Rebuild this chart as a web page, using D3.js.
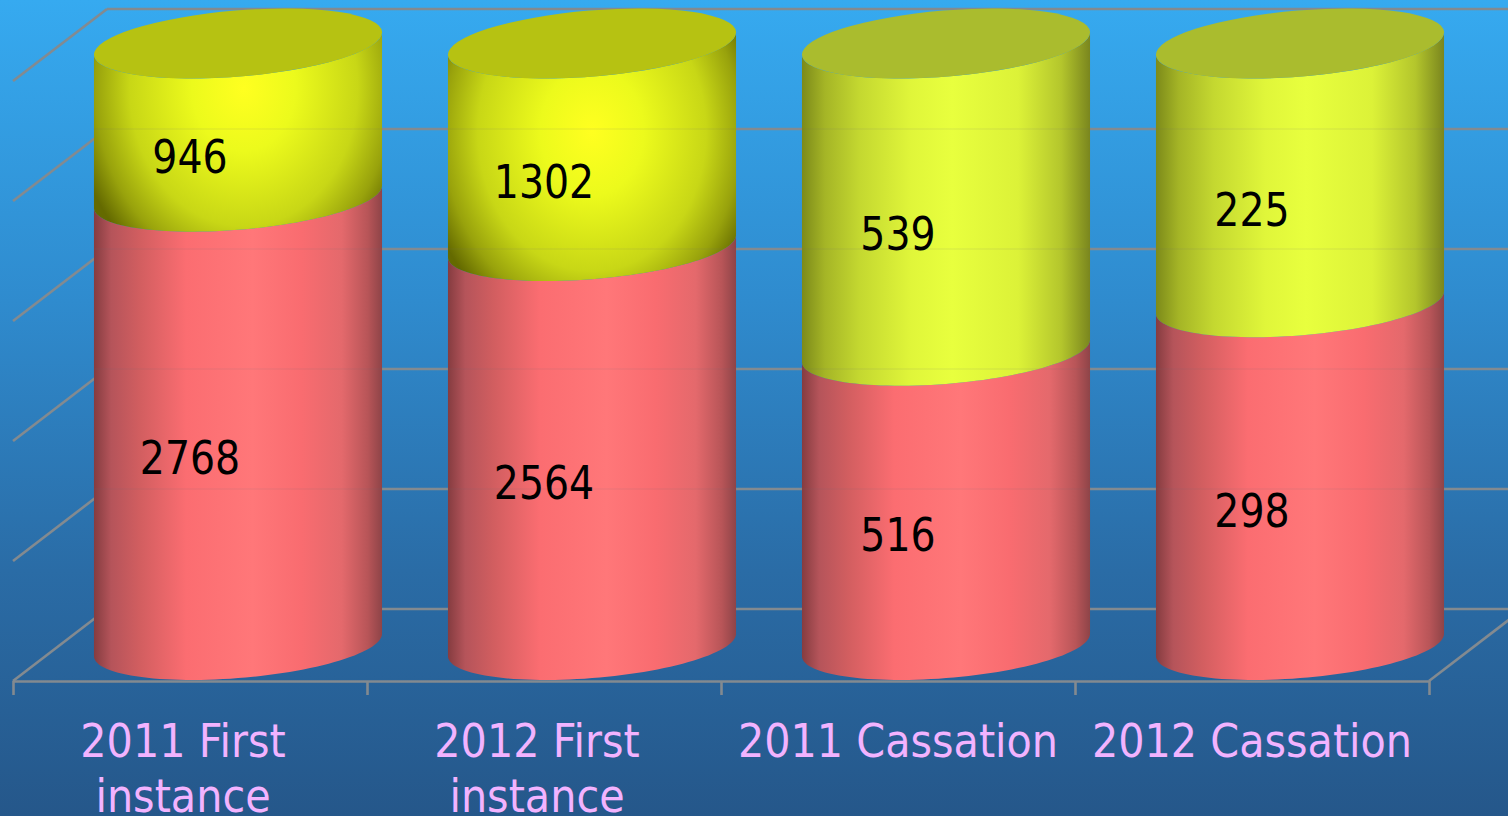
<!DOCTYPE html>
<html><head><meta charset="utf-8">
<script src="https://cdn.jsdelivr.net/npm/d3@7"></script>
<style>html,body{margin:0;padding:0;overflow:hidden;background:#25588b}svg{display:block}text{font-family:"DejaVu Sans",Tahoma,sans-serif}</style>
</head><body><svg id="c" width="1508" height="816"></svg>
<script>
const categories = ["2011 First instance","2012 First instance","2011 Cassation","2012 Cassation"];
const lowerValues = [2768,2564,516,298];
const upperValues = [946,1302,539,225];
const percentTicks = [0,20,40,60,80,100];

const W=1508,H=816;
const svg=d3.select("#c");
const defs=svg.append("defs");
function grad(el,id,stops,attrs){const g=defs.append(el).attr("id",id);
  Object.entries(attrs||{}).forEach(([k,v])=>g.attr(k,v));
  stops.forEach(([o,c])=>g.append("stop").attr("offset",o).attr("stop-color",c));}
grad("linearGradient","bg",[[0,"#36aaf0"],[.37,"#2f8bce"],[.7,"#2a6ca6"],[1,"#25578a"]],{x1:0,y1:0,x2:0,y2:1});
grad("linearGradient","red",[[0,"#853c40"],[.06,"#b5545a"],[.16,"#d25e60"],[.32,"#fb6d71"],[.55,"#ff7779"],[.72,"#f96c70"],[.86,"#e4696c"],[.95,"#b85558"],[1,"#8e4448"]],{x1:0,y1:0,x2:1,y2:0});
grad("linearGradient","lime",[[0,"#7c8a1a"],[.08,"#a5b526"],[.2,"#c4d830"],[.38,"#e0f63a"],[.52,"#e8ff3e"],[.75,"#dcf238"],[.9,"#b4c62c"],[1,"#7a861e"]],{x1:0,y1:0,x2:1,y2:0});
const hot=[[0,"#ffff20"],[.3,"#ecfa1c"],[.66,"#c8d716"],[.86,"#98a20c"],[1,"#646a00"]];
grad("radialGradient","hot0",hot,{cx:.52,cy:.28,r:1,gradientTransform:"translate(.52,.28) scale(.6,1.05) translate(-.52,-.28)"});
grad("radialGradient","hot1",hot,{cx:.5,cy:.4,r:1,gradientTransform:"translate(.5,.4) scale(.6,.85) translate(-.5,-.4)"});

svg.append("rect").attr("width",W).attr("height",H).attr("fill","url(#bg)");

// scales
const x=d3.scaleBand().domain(categories).range([13,1429]);
const xEdge=d3.scaleLinear().domain([0,4]).range([13,1429]);
const yBack=d3.scaleLinear().domain([0,100]).range([609,9]);
const yCyl=d3.scaleLinear().domain([0,1]).range([645,43.5]);
const depthX=94, wallY=72, depthCx=48;
const gridCol="#838a90";

// walls
const grid=svg.append("g").attr("stroke",gridCol).attr("stroke-width",2.6).attr("fill","none");
grid.selectAll("line.h").data(percentTicks).join("line").attr("class","h")
  .attr("x1",13+depthX).attr("x2",W).attr("y1",d=>yBack(d)).attr("y2",d=>yBack(d));
grid.selectAll("line.d").data(percentTicks).join("line").attr("class","d")
  .attr("x1",13).attr("x2",13+depthX).attr("y1",d=>yBack(d)+wallY).attr("y2",d=>yBack(d));
grid.append("line").attr("x1",1429).attr("y1",yBack(0)+wallY).attr("x2",1429+depthX).attr("y2",yBack(0));

// x axis
const ax=svg.append("g").attr("transform",`translate(0,${yBack(0)+wallY})`)
  .call(d3.axisBottom(xEdge).tickValues([0,1,2,3,4]).tickFormat("").tickSize(14).tickSizeOuter(0));
ax.selectAll("path,line").attr("stroke",gridCol).attr("stroke-width",2.6);

// stacked cylinders
const rows=categories.map((c,i)=>({c,lower:lowerValues[i],upper:upperValues[i]}));
const stack=d3.stack().keys(["lower","upper"]).offset(d3.stackOffsetExpand)(rows);
const rx=144.5, ry=33, tilt=-4.7*Math.PI/180, frontDrop=34;
const t0=Math.atan(-(ry/rx)*Math.tan(tilt));
const pt=(cx,cy,t)=>[cx+rx*Math.cos(t)*Math.cos(tilt)-ry*Math.sin(t)*Math.sin(tilt),
                     cy+rx*Math.cos(t)*Math.sin(tilt)+ry*Math.sin(t)*Math.cos(tilt)];
const ts=d3.range(0,61).map(i=>t0+Math.PI*i/60);
const line=d3.line();
function seg(cx,y0,y1){
  const a=ts.map(t=>pt(cx,y0,t));
  const b=ts.slice().reverse().map(t=>pt(cx,y1,t));
  return line(a.concat(b))+"Z";
}
const capFill=i=>i<2?"#b6c212":"#aabc2e";
const upperFill=i=>i<2?`url(#hot${i})`:"url(#lime)";
const gBars=svg.append("g");
rows.forEach((r,i)=>{
  const cx=x(r.c)+x.bandwidth()/2+depthCx;
  const g=gBars.append("g");
  const L=stack[0][i],U=stack[1][i];
  g.append("path").attr("d",seg(cx,yCyl(L[0]),yCyl(L[1]))).attr("fill","url(#red)");
  g.append("path").attr("d",seg(cx,yCyl(U[0]),yCyl(U[1]))).attr("fill",upperFill(i));
  // faint gridline show-through on the cylinder body
  const sl=g.append("g").attr("stroke","#6a7078").attr("stroke-opacity",.1).attr("stroke-width",1.5);
  percentTicks.slice(1,-1).forEach(p=>{
    sl.append("line").attr("x1",cx-rx).attr("x2",cx+rx).attr("y1",yBack(p)).attr("y2",yBack(p));
  });
  g.append("ellipse").attr("rx",rx).attr("ry",ry).attr("fill",capFill(i))
    .attr("transform",`translate(${cx},${yCyl(1)}) rotate(${tilt*180/Math.PI})`);
  // value labels
  const lab=(v,a,b)=>svg.append("text").text(v)
    .attr("transform",`translate(${x(r.c)+x.bandwidth()/2},${(yCyl(a)+yCyl(b))/2+frontDrop+19}) scale(.84,1)`)
    .attr("text-anchor","middle").attr("font-size",47).attr("fill","#000");
  lab(r.lower,L[0],L[1]);
  lab(r.upper,U[0],U[1]);
});

// category labels
const wrapFirst=/First/;
categories.forEach(c=>{
  const nudge=wrapFirst.test(c)?-7:0;
  const m=c.match(/^(.*First) (instance)$/);
  const lines=m?[m[1],m[2]]:[c];
  lines.forEach((t,k)=>{
    svg.append("text").text(t)
      .attr("transform",`translate(${x(c)+x.bandwidth()/2+nudge},${757+k*55}) scale(.88,1)`)
      .attr("text-anchor","middle").attr("font-size",47).attr("fill","#f2b3ff");
  });
});
</script></body></html>
